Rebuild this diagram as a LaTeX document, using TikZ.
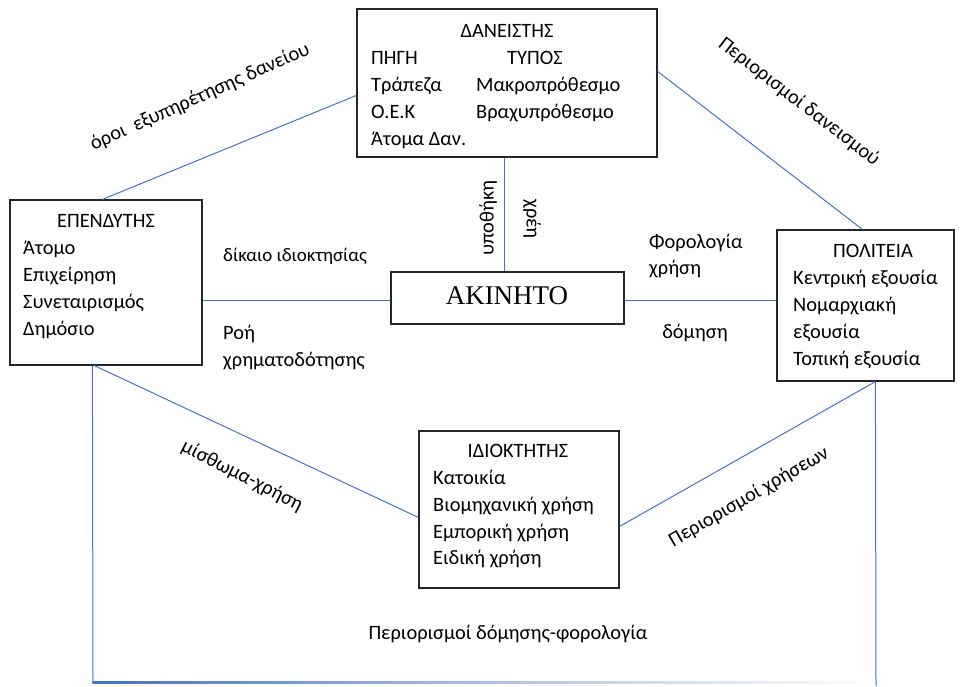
\documentclass[tikz,border=0pt]{standalone}
\usepackage{fontspec}
\setmainfont{Carlito}
\newfontfamily\serifgr{Liberation Serif}
\usetikzlibrary{calc}
\definecolor{lineblue}{HTML}{4472C4}
\definecolor{boxblack}{HTML}{262626}
\begin{document}
\begin{tikzpicture}[x=1pt,y=-1pt,
  box/.style={draw=boxblack, line width=1.2pt, inner sep=0pt},
  conn/.style={draw=lineblue, line width=1pt},
  item/.style={inner sep=0pt, anchor=base west, font=\fontsize{20.4}{24}\selectfont},
  ttl/.style={inner sep=0pt, anchor=base, font=\fontsize{20.4}{24}\selectfont},
  lbl/.style={inner sep=0pt, font=\fontsize{20.4}{24}\selectfont}]
\useasboundingbox (0,0) rectangle (960,686);

% boxes
\node[box, minimum width=300pt, minimum height=148pt] (dan) at (507,83) {};
\node[box, minimum width=192pt, minimum height=165pt] (ep) at (106,282.5) {};
\node[box, minimum width=233pt, minimum height=52pt] (ak) at (507.5,298) {};
\node[box, minimum width=177pt, minimum height=151pt] (pol) at (865.5,305.5) {};
\node[box, minimum width=200pt, minimum height=157pt] (id) at (519,509.5) {};

% box texts: ΔΑΝΕΙΣΤΗΣ
\node[ttl] (danT) at (507,37) {ΔΑΝΕΙΣΤΗΣ};
\node[item] (dan1) at (371,64) {ΠΗΓΗ};
\node[item] (dan2) at (507,64) {ΤΥΠΟΣ};
\node[item] (dan3) at (371,91) {Τράπεζα};
\node[item] (dan4) at (476,91) {Μακροπρόθεσμο};
\node[item] (dan5) at (371,118) {Ο.Ε.Κ};
\node[item] (dan6) at (476,118) {Βραχυπρόθεσμο};
\node[item] (dan7) at (371,145) {Άτομα Δαν.};

% ΕΠΕΝΔΥΤΗΣ
\node[ttl] (epT) at (106,227) {ΕΠΕΝΔΥΤΗΣ};
\node[item] (ep1) at (23,254) {Άτομο};
\node[item] (ep2) at (23,281) {Επιχείρηση};
\node[item] (ep3) at (23,308) {Συνεταιρισμός};
\node[item] (ep4) at (23,335) {Δημόσιο};

% ΑΚΙΝΗΤΟ
\node[inner sep=0pt, anchor=base, font=\serifgr\fontsize{27}{31}\selectfont] (akT) at (507,304) {ΑΚΙΝΗΤΟ};

% ΠΟΛΙΤΕΙΑ
\node[ttl] (polT) at (873,257) {ΠΟΛΙΤΕΙΑ};
\node[item] (pol1) at (793,284) {Κεντρική εξουσία};
\node[item] (pol2) at (793,311) {Νομαρχιακή};
\node[item] (pol3) at (793,338) {εξουσία};
\node[item] (pol4) at (793,365) {Τοπική εξουσία};

% ΙΔΙΟΚΤΗΤΗΣ
\node[ttl] (idT) at (518,457) {ΙΔΙΟΚΤΗΤΗΣ};
\node[item] (id1) at (433,484) {Κατοικία};
\node[item] (id2) at (433,511) {Βιομηχανική χρήση};
\node[item] (id3) at (433,538) {Εμπορική χρήση};
\node[item] (id4) at (433,564) {Ειδική χρήση};

% connectors
\draw[conn] ($(ep.north west)+(93,0)$) -- ($(dan.north west)+(0,87)$);
\draw[conn] ($(dan.north east)+(0,63)$) -- ($(pol.north west)+(86,0)$);
\draw[conn] ($(dan.south)+(-3,0)$) -- ($(ak.north)+(-3.5,0)$);
\draw[conn] ($(ep.east)+(0,17.5)$) -- ($(ak.west)+(0,2)$);
\draw[conn] ($(ak.east)+(0,2)$) -- ($(pol.west)+(0,-5.5)$);
\draw[conn] ($(ep.south west)+(85,0)$) -- ($(id.north west)+(0,87)$);
\draw[conn] ($(id.north east)+(0,96)$) -- ($(pol.south west)+(99,0)$);
\coordinate (bl) at (93,682);
\coordinate (br) at (876,682);
\coordinate (be) at (876,686);
\draw[conn] ($(ep.south west)+(83,0)$) -- (bl);
\shade[left color=lineblue, right color=white, middle color=lineblue!45] ($(bl)+(-0.5,-1)$) rectangle ($(br)+(0,1)$);
\draw[conn] ($(pol.south west)+(99,0)$) -- (be);

% connector labels
\node[lbl, rotate=24] (l1) at (200,97) {όροι\ \ εξυπηρέτησης δανείου};
\node[lbl, rotate=-37.5] (l2) at (799,102) {Περιορισμοί δανεισμού};
\node[lbl, rotate=90] (l3) at (488,218) {υποθήκη};
\node[lbl, rotate=-90] (l4) at (532,219) {χρέη};
\node[item] (l5) at (649,248) {Φορολογία};
\node[item] (l6) at (649,274) {χρήση};
\node[lbl, anchor=base] (l7) at (695,338) {δόμηση};
\node[item, font=\fontsize{19}{23}\selectfont] (l8) at (223,261) {δίκαιο ιδιοκτησίας};
\node[item] (l9) at (223,339) {Ροή};
\node[item] (l10) at (223,366) {χρηματοδότησης};
\node[lbl, rotate=-27] (l11) at (242,476) {μίσθωμα-χρήση};
\node[lbl, rotate=30] (l12) at (749,497) {Περιορισμοί χρήσεων};
\node[lbl, anchor=base] (l13) at (508,639) {Περιορισμοί δόμησης-φορολογία};
\end{tikzpicture}
\end{document}
